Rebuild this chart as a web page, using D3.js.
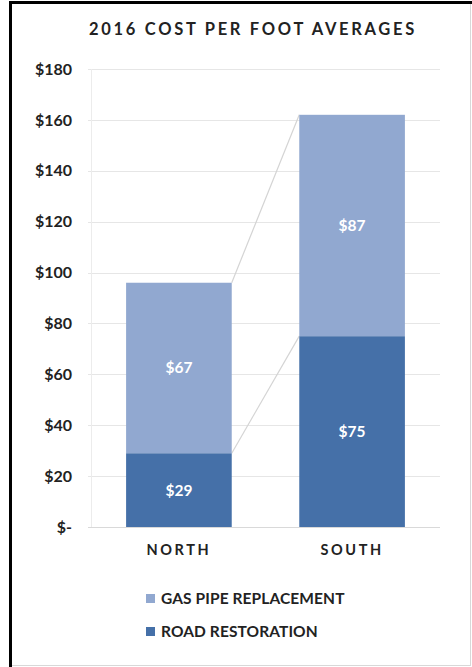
<!DOCTYPE html>
<html>
<head>
<meta charset="utf-8">
<script src="https://cdn.jsdelivr.net/npm/d3@7"></script>
<style>
  body { margin: 0; background: #fff; }
  text { font-family: Lato, "Open Sans", sans-serif; font-weight: bold; }
</style>
</head>
<body>
<div id="chart-area"></div>
<script>
// chart data
const regions = ['NORTH', 'SOUTH'];
const roadRestoration = [29, 75];
const gasPipeReplacement = [67, 87];
const seriesNames = ['ROAD RESTORATION', 'GAS PIPE REPLACEMENT'];
const yTicks = [0, 20, 40, 60, 80, 100, 120, 140, 160, 180];

const W = 472, H = 667;
const margin = { top: 69, right: 32, bottom: 140, left: 88 };
const width = W - margin.left - margin.right;
const height = H - margin.top - margin.bottom;

const colors = { 'ROAD RESTORATION': '#4570a8', 'GAS PIPE REPLACEMENT': '#91a8d0' };

const svg = d3.select('#chart-area')
  .append('svg')
    .attr('width', W)
    .attr('height', H);

// frame
svg.append('rect')
  .attr('x', 10.5).attr('y', 2.5)
  .attr('width', W - 12).attr('height', H - 4)
  .attr('fill', 'none')
  .attr('stroke', '#d8d8d8')
  .attr('stroke-width', 1);
svg.append('line')
  .attr('x1', 10.5).attr('x2', 10.5).attr('y1', 1).attr('y2', H)
  .attr('stroke', '#000').attr('stroke-width', 3);
svg.append('line')
  .attr('x1', 9).attr('x2', W).attr('y1', 2.5).attr('y2', 2.5)
  .attr('stroke', '#000').attr('stroke-width', 3);

// title
svg.append('text')
  .attr('x', 253).attr('y', 35)
  .attr('text-anchor', 'middle')
  .attr('font-size', 16.5)
  .attr('letter-spacing', 2.7)
  .attr('fill', '#222')
  .text('2016 COST PER FOOT AVERAGES');

const g = svg.append('g')
  .attr('transform', 'translate(' + margin.left + ',' + margin.top + ')');

const x = d3.scaleBand()
  .domain(regions)
  .range([0, 355])
  .paddingInner(0.39)
  .paddingOuter(0.22);

const y = d3.scaleLinear()
  .domain([0, 180])
  .range([height, 0]);

// gridlines
g.append('g')
  .selectAll('line')
  .data(yTicks)
  .enter().append('line')
    .attr('x1', 0).attr('x2', width)
    .attr('y1', d => Math.round(y(d)) + 0.5)
    .attr('y2', d => Math.round(y(d)) + 0.5)
    .attr('stroke', d => d === 0 ? '#d9d9d9' : '#e6e6e6')
    .attr('stroke-width', 1);

g.append('line')
  .attr('x1', 3.5).attr('x2', 3.5)
  .attr('y1', 0).attr('y2', height)
  .attr('stroke', '#ececec');

// y axis labels
const yAxisCall = d3.axisLeft(y)
  .tickValues(yTicks)
  .tickSize(0)
  .tickPadding(16)
  .tickFormat(d => d === 0 ? '$-' : '$' + d);
const yAxisGroup = g.append('g').call(yAxisCall);
yAxisGroup.select('.domain').remove();
yAxisGroup.selectAll('text')
  .attr('font-size', 16)
  .attr('fill', '#222')
  .style('font-family', 'Lato, sans-serif')
  .style('font-weight', 'bold');

// x axis labels
const xAxisCall = d3.axisBottom(x).tickSize(0).tickPadding(18);
const xAxisGroup = g.append('g')
  .attr('transform', 'translate(0,' + height + ')')
  .call(xAxisCall);
xAxisGroup.select('.domain').remove();
xAxisGroup.selectAll('text')
  .attr('font-size', 14.5)
  .attr('letter-spacing', 2.6)
  .attr('fill', '#222')
  .style('font-family', 'Lato, sans-serif')
  .style('font-weight', 'bold');

// stacked data
const table = regions.map((r, i) => ({
  region: r,
  'ROAD RESTORATION': roadRestoration[i],
  'GAS PIPE REPLACEMENT': gasPipeReplacement[i]
}));
const stacked = d3.stack().keys(seriesNames)(table);

// series lines between bars
stacked.forEach(s => {
  g.append('line')
    .attr('x1', x(regions[0]) + x.bandwidth())
    .attr('y1', y(s[0][1]))
    .attr('x2', x(regions[1]))
    .attr('y2', y(s[1][1]))
    .attr('stroke', '#d4d4d4')
    .attr('stroke-width', 1.2);
});

const layers = g.selectAll('.layer')
  .data(stacked)
  .enter().append('g')
    .attr('class', 'layer')
    .attr('fill', d => colors[d.key]);

layers.selectAll('rect')
  .data(d => d)
  .enter().append('rect')
    .attr('x', d => x(d.data.region))
    .attr('y', d => y(d[1]))
    .attr('width', x.bandwidth())
    .attr('height', d => y(d[0]) - y(d[1]));

layers.selectAll('.val')
  .data(d => d)
  .enter().append('text')
    .attr('class', 'val')
    .attr('x', d => x(d.data.region) + x.bandwidth() / 2)
    .attr('y', d => (y(d[0]) + y(d[1])) / 2)
    .attr('dy', '0.35em')
    .attr('text-anchor', 'middle')
    .attr('font-size', 15.5)
    .attr('fill', '#fff')
    .text(d => '$' + (d[1] - d[0]));

// legend
const legendItems = ['GAS PIPE REPLACEMENT', 'ROAD RESTORATION'];
const legend = svg.append('g')
  .attr('transform', 'translate(146,' + 594 + ')');
const li = legend.selectAll('g')
  .data(legendItems)
  .enter().append('g')
    .attr('transform', (d, i) => 'translate(0,' + i * 33 + ')');
li.append('rect')
  .attr('width', 9).attr('height', 9)
  .attr('fill', d => colors[d]);
li.append('text')
  .attr('x', 15).attr('y', 4.5)
  .attr('dy', '0.35em')
  .attr('font-size', 15.5)
  .attr('fill', '#222')
  .attr('letter-spacing', 0.1)
  .text(d => d);
</script>
</body>
</html>
